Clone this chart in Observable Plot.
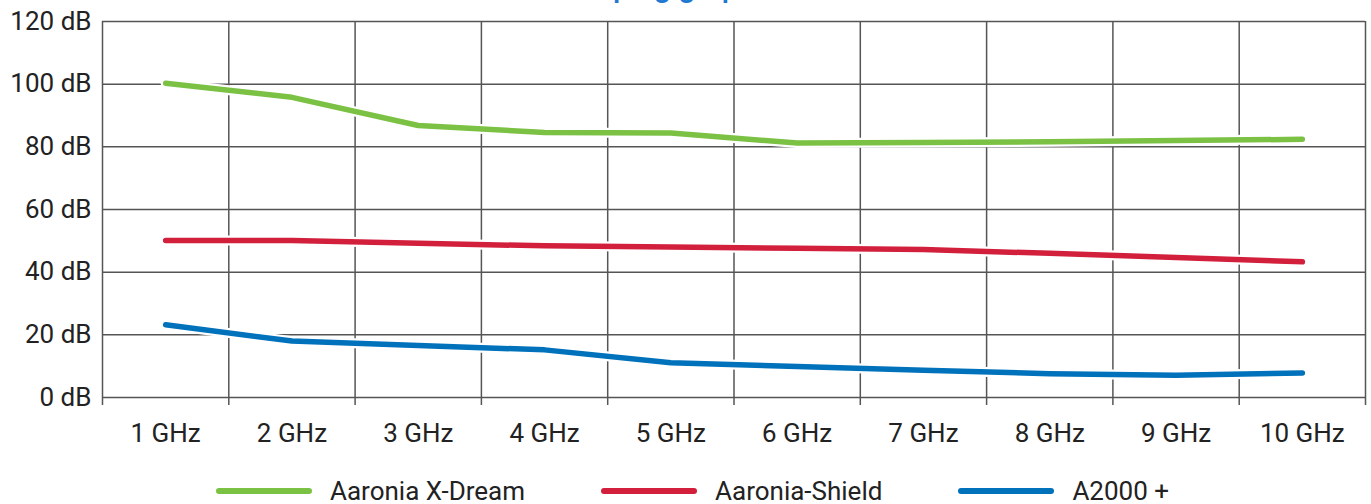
<!DOCTYPE html>
<html>
<head>
<meta charset="utf-8">
<script src="https://cdn.jsdelivr.net/npm/d3@7"></script>
<script src="https://cdn.jsdelivr.net/npm/@observablehq/plot@0.6"></script>
<style>
  html, body { margin: 0; padding: 0; background: #fff; overflow: hidden; width: 1371px; height: 504px; }
  #wrap { position: relative; width: 1371px; height: 504px; font-family: Roboto, "Noto Sans", sans-serif; }
  #title { position: absolute; left: 551px; top: -28px; font-size: 30px; line-height: 30px; font-weight: 500; color: #1f78d1; white-space: nowrap; }
  #legend { position: absolute; left: 216px; top: 491px; transform: translateY(-50%); display: flex; align-items: center; font-size: 26px; color: #222; }
  .item { display: flex; align-items: center; margin-right: 76px; }
  .sw { width: 96px; height: 6px; border-radius: 3px; margin-right: 18px; }
</style>
</head>
<body>
<div id="wrap">
  <div id="chart"></div>
  <div id="title">Damping graph</div>
  <div id="legend"></div>
</div>
<script>
const categories = ["1 GHz", "2 GHz", "3 GHz", "4 GHz", "5 GHz", "6 GHz", "7 GHz", "8 GHz", "9 GHz", "10 GHz"];
const xDream = [100.3, 95.8, 86.8, 84.6, 84.4, 81.2, 81.4, 81.6, 82.0, 82.4];
const shield = [50.1, 50.1, 49.2, 48.4, 48.0, 47.6, 47.2, 46.0, 44.7, 43.3];
const a2000  = [23.2, 18.0, 16.6, 15.2, 11.1, 9.9, 8.7, 7.6, 7.1, 7.8];
const seriesNames = ["Aaronia X-Dream", "Aaronia-Shield", "A2000 +"];
const seriesColors = ["#7bc143", "#d21f3c", "#0071bb"];
const yTicks = [0, 20, 40, 60, 80, 100, 120];

const seriesValues = [xDream, shield, a2000];
const rows = seriesNames.flatMap((s, j) =>
  categories.map((c, i) => ({ x: i + 1, y: seriesValues[j][i], series: s })));
const positions = categories.map((c, i) => i + 1);
const bounds = [0.5, ...categories.map((c, i) => i + 1.5)];

const chart = Plot.plot({
  width: 1371,
  height: 460,
  marginLeft: 102,
  marginRight: 6,
  marginTop: 21,
  marginBottom: 63,
  x: { type: "linear", domain: [0.5, categories.length + 0.5] },
  y: { domain: [0, 120] },
  color: { domain: seriesNames, range: seriesColors },
  style: { fontFamily: "Roboto, sans-serif", fontSize: "26px", color: "#222", background: "white" },
  marks: [
    Plot.ruleY(yTicks, { stroke: "#555", strokeWidth: 1.5, strokeOpacity: 1 }),
    Plot.ruleX(bounds, { stroke: "#555", strokeWidth: 1.5, strokeOpacity: 1, insetBottom: -8 }),
    Plot.axisY({ ticks: yTicks, tickSize: 0, tickPadding: 11, tickFormat: d => `${d} dB`, fontSize: 26, label: null }),
    Plot.axisX({ ticks: positions, tickSize: 0, tickPadding: 26, tickFormat: i => categories[i - 1], fontSize: 26, label: null }),
    Plot.line(rows, { x: "x", y: "y", z: "series", stroke: "white", strokeWidth: 10, strokeLinecap: "round", strokeLinejoin: "round" }),
    Plot.line(rows, { x: "x", y: "y", z: "series", stroke: "series", strokeWidth: 5.5, strokeLinecap: "round", strokeLinejoin: "round" })
  ]
});
document.getElementById("chart").appendChild(chart);

const legend = document.getElementById("legend");
seriesNames.forEach((s, j) => {
  const it = document.createElement("div");
  it.className = "item";
  const sw = document.createElement("div");
  sw.className = "sw";
  sw.style.background = seriesColors[j];
  const t = document.createElement("span");
  t.textContent = s;
  it.appendChild(sw);
  it.appendChild(t);
  legend.appendChild(it);
});
</script>
</body>
</html>
